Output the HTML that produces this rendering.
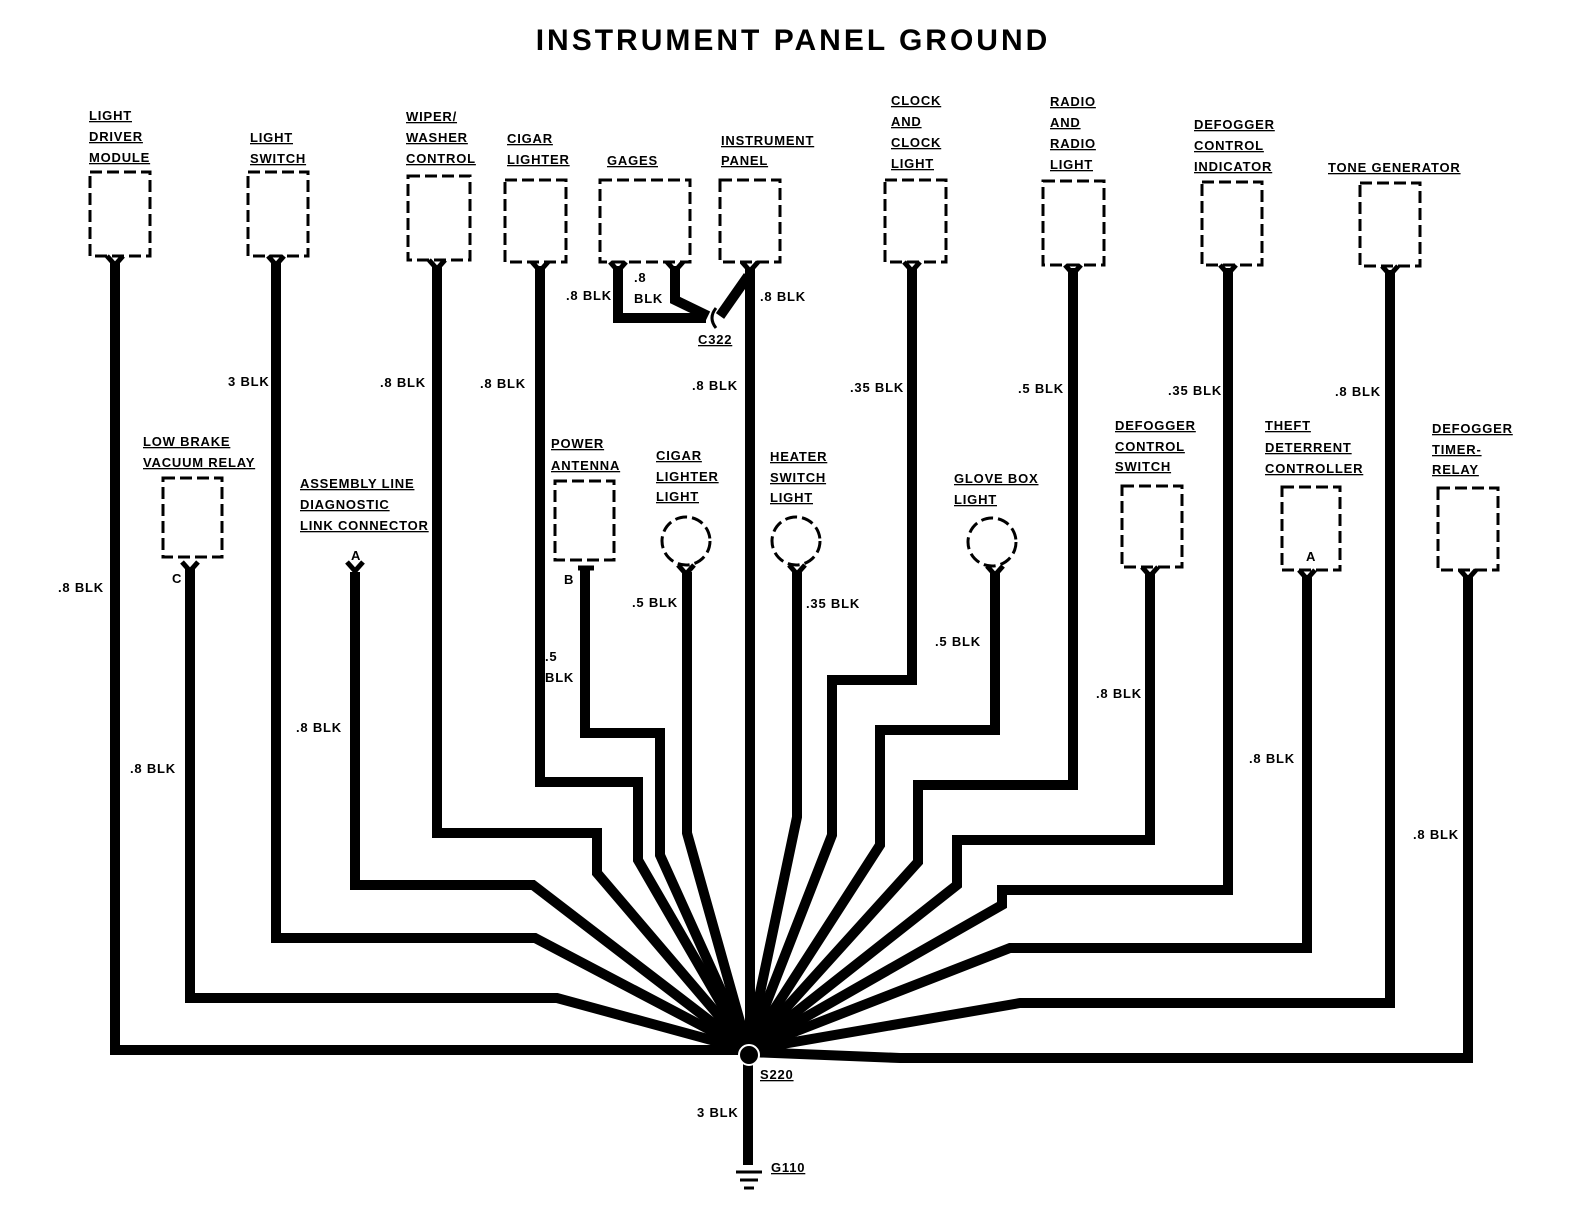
<!DOCTYPE html>
<html><head><meta charset="utf-8"><style>
html,body{margin:0;padding:0;background:#fff;}
svg{display:block;}
.t{font-family:"Liberation Sans",sans-serif;font-weight:bold;font-size:13px;fill:#000;letter-spacing:0.8px;}
.u{text-decoration:underline;}
.w{fill:none;stroke:#000;stroke-width:10;stroke-linejoin:miter;}
.b{fill:none;stroke:#000;stroke-width:3;stroke-dasharray:12,5;}
</style></head><body>
<svg width="1584" height="1232" viewBox="0 0 1584 1232" xmlns="http://www.w3.org/2000/svg">
<text x="793" y="50" text-anchor="middle" style="font-family:'Liberation Sans',sans-serif;font-weight:bold;font-size:30px;letter-spacing:3px">INSTRUMENT PANEL GROUND</text>

<g class="b">
<rect x="90" y="172" width="60" height="84"/>
<rect x="248" y="172" width="60" height="84"/>
<rect x="408" y="176" width="62" height="84"/>
<rect x="505" y="180" width="61" height="82"/>
<rect x="600" y="180" width="90" height="82"/>
<rect x="720" y="180" width="60" height="82"/>
<rect x="885" y="180" width="61" height="82"/>
<rect x="1043" y="181" width="61" height="84"/>
<rect x="1202" y="182" width="60" height="83"/>
<rect x="1360" y="183" width="60" height="83"/>
<rect x="163" y="478" width="59" height="79"/>
<rect x="555" y="481" width="59" height="79"/>
<rect x="1122" y="486" width="60" height="81"/>
<rect x="1282" y="487" width="58" height="83"/>
<rect x="1438" y="488" width="60" height="82"/>
<circle cx="686" cy="541" r="24"/>
<circle cx="796" cy="541" r="24"/>
<circle cx="992" cy="542" r="24"/>
</g>

<g class="w">
<path d="M115,262 V1050 H748"/>
<path d="M190,568 V998 H557 L748,1050"/>
<path d="M276,262 V938 H535 L748,1050"/>
<path d="M355,572 V885 H533 L748,1050"/>
<path d="M437,266 V833 H597 V873 L748,1050"/>
<path d="M540,266 V782 H638 V860 L748,1050"/>
<path d="M585,570 V733 H660 V855 L748,1050"/>
<path d="M687,572 V833 L748,1050"/>
<path d="M750,268 V1050"/>
<path d="M797,572 V817 L748,1050"/>
<path d="M912,268 V680 H832 V835 L748,1050"/>
<path d="M995,572 V730 H880 V845 L748,1050"/>
<path d="M1073,268 V785 H918 V862 L748,1050"/>
<path d="M1150,572 V840 H957 V885 L748,1050"/>
<path d="M1228,268 V890 H1002 V905 L748,1050"/>
<path d="M1307,575 V948 H1010 L748,1050"/>
<path d="M1390,270 V1003 H1020 L748,1050"/>
<path d="M1468,575 V1058 H900 L748,1052"/>
<path d="M748,1055 V1165"/>
<path d="M618,266 V318 H706"/>
<path d="M675,266 V300 L708,316"/>
<path d="M748,276 L720,316"/>
</g>
<path d="M716,308 Q708,318 716,328" fill="none" stroke="#000" stroke-width="3"/>
<g stroke="#000" stroke-width="5" fill="none">
<path d="M107,256 L115,265 L123,256"/><path d="M268,256 L276,265 L284,256"/>
<path d="M429,260 L437,269 L445,260"/><path d="M532,262 L540,271 L548,262"/>
<path d="M610,262 L618,271 L626,262"/><path d="M667,262 L675,271 L683,262"/>
<path d="M742,262 L750,271 L758,262"/><path d="M904,262 L912,271 L920,262"/>
<path d="M1065,265 L1073,274 L1081,265"/><path d="M1220,265 L1228,274 L1236,265"/>
<path d="M1382,266 L1390,275 L1398,266"/>
<path d="M182,562 L190,571 L198,562"/><path d="M347,562 L355,571 L363,562"/>
<path d="M678,565 L686,574 L694,565"/><path d="M789,565 L797,574 L805,565"/>
<path d="M987,566 L995,575 L1003,566"/><path d="M1142,567 L1150,576 L1158,567"/>
<path d="M1299,570 L1307,579 L1315,570"/><path d="M1460,570 L1468,579 L1476,570"/>
<path d="M578,568 H594"/>
</g>
<circle cx="749" cy="1055" r="10" fill="#000" stroke="#fff" stroke-width="2"/>
<g stroke="#000" stroke-width="3"><line x1="736" y1="1172" x2="762" y2="1172"/><line x1="740" y1="1180" x2="758" y2="1180"/><line x1="744" y1="1188" x2="754" y2="1188"/></g>

<g class="t">
<text class="u" x="89" y="120">LIGHT</text><text class="u" x="89" y="141">DRIVER</text><text class="u" x="89" y="162">MODULE</text>
<text class="u" x="250" y="142">LIGHT</text><text class="u" x="250" y="163">SWITCH</text>
<text class="u" x="406" y="121">WIPER/</text><text class="u" x="406" y="142">WASHER</text><text class="u" x="406" y="163">CONTROL</text>
<text class="u" x="507" y="143">CIGAR</text><text class="u" x="507" y="164">LIGHTER</text>
<text class="u" x="607" y="165">GAGES</text>
<text class="u" x="721" y="145">INSTRUMENT</text><text class="u" x="721" y="165">PANEL</text>
<text class="u" x="891" y="105">CLOCK</text><text class="u" x="891" y="126">AND</text><text class="u" x="891" y="147">CLOCK</text><text class="u" x="891" y="168">LIGHT</text>
<text class="u" x="1050" y="106">RADIO</text><text class="u" x="1050" y="127">AND</text><text class="u" x="1050" y="148">RADIO</text><text class="u" x="1050" y="169">LIGHT</text>
<text class="u" x="1194" y="129">DEFOGGER</text><text class="u" x="1194" y="150">CONTROL</text><text class="u" x="1194" y="171">INDICATOR</text>
<text class="u" x="1328" y="172">TONE GENERATOR</text>
<text class="u" x="143" y="446">LOW BRAKE</text><text class="u" x="143" y="467">VACUUM RELAY</text>
<text class="u" x="300" y="488">ASSEMBLY LINE</text><text class="u" x="300" y="509">DIAGNOSTIC</text><text class="u" x="300" y="530">LINK CONNECTOR</text>
<text class="u" x="551" y="448">POWER</text><text class="u" x="551" y="470">ANTENNA</text>
<text class="u" x="656" y="460">CIGAR</text><text class="u" x="656" y="481">LIGHTER</text><text class="u" x="656" y="501">LIGHT</text>
<text class="u" x="770" y="461">HEATER</text><text class="u" x="770" y="482">SWITCH</text><text class="u" x="770" y="502">LIGHT</text>
<text class="u" x="954" y="483">GLOVE BOX</text><text class="u" x="954" y="504">LIGHT</text>
<text class="u" x="1115" y="430">DEFOGGER</text><text class="u" x="1115" y="451">CONTROL</text><text class="u" x="1115" y="471">SWITCH</text>
<text class="u" x="1265" y="430">THEFT</text><text class="u" x="1265" y="452">DETERRENT</text><text class="u" x="1265" y="473">CONTROLLER</text>
<text class="u" x="1432" y="433">DEFOGGER</text><text class="u" x="1432" y="454">TIMER-</text><text class="u" x="1432" y="474">RELAY</text>
<text x="172" y="583">C</text><text x="351" y="560">A</text><text x="564" y="584">B</text><text x="1306" y="561">A</text>
<text x="228" y="386">3 BLK</text><text x="380" y="387">.8 BLK</text><text x="480" y="388">.8 BLK</text>
<text x="692" y="390">.8 BLK</text><text x="850" y="392">.35 BLK</text><text x="1018" y="393">.5 BLK</text>
<text x="1168" y="395">.35 BLK</text><text x="1335" y="396">.8 BLK</text>
<text x="58" y="592">.8 BLK</text><text x="130" y="773">.8 BLK</text><text x="296" y="732">.8 BLK</text>
<text x="545" y="661">.5</text><text x="545" y="682">BLK</text>
<text x="632" y="607">.5 BLK</text><text x="806" y="608">.35 BLK</text><text x="935" y="646">.5 BLK</text>
<text x="1096" y="698">.8 BLK</text><text x="1249" y="763">.8 BLK</text><text x="1413" y="839">.8 BLK</text>
<text x="566" y="300">.8 BLK</text><text x="634" y="282">.8</text><text x="634" y="303">BLK</text>
<text x="760" y="301">.8 BLK</text>
<text class="u" x="698" y="344">C322</text>
<text class="u" x="760" y="1079">S220</text>
<text x="697" y="1117">3 BLK</text>
<text class="u" x="771" y="1172">G110</text>
</g>
</svg>
</body></html>
